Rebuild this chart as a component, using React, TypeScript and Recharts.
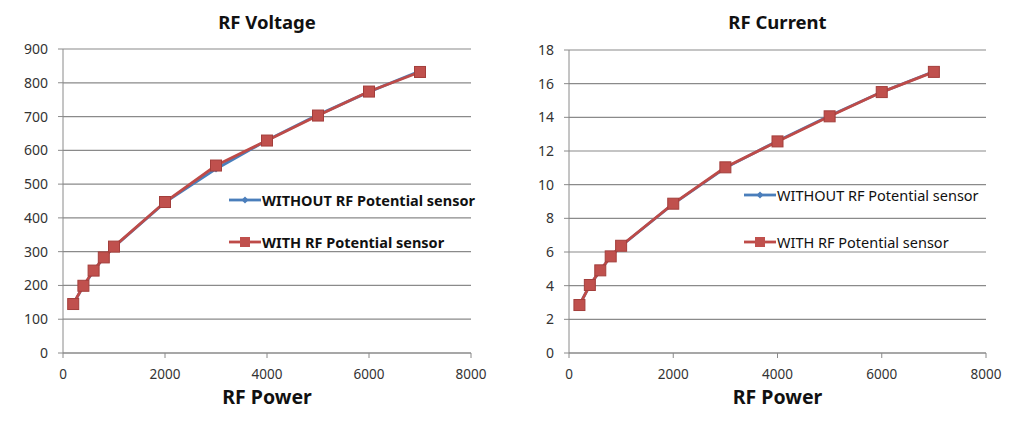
import { CartesianGrid, Legend, Line, LineChart, XAxis, YAxis } from "recharts"

const power = [200, 400, 600, 800, 1000, 2000, 3000, 4000, 5000, 6000, 7000]
const voltageWithout = [145, 198, 243, 282, 314, 446, 545, 630, 705, 773, 835]
const voltageWith = [145, 199, 244, 283, 315, 447, 555, 629, 703, 774, 832]
const currentWithout = [2.85, 4.02, 4.9, 5.73, 6.36, 8.86, 11.0, 12.6, 14.1, 15.5, 16.72]
const currentWith = [2.85, 4.04, 4.91, 5.74, 6.37, 8.87, 11.03, 12.57, 14.06, 15.5, 16.7]
const xTicks = [0, 2000, 4000, 6000, 8000]
const voltageTicks = [0, 100, 200, 300, 400, 500, 600, 700, 800, 900]
const currentTicks = [0, 2, 4, 6, 8, 10, 12, 14, 16, 18]
const seriesNames = ["WITHOUT RF Potential sensor", "WITH RF Potential sensor"]

const BLUE = "#4A7EBB"
const RED = "#BE4B48"
const FONT = "'Noto Sans', sans-serif"

const Square = (props: any) => {
  const { cx, cy } = props
  if (cx == null || cy == null) return null
  return <rect x={cx - 5.5} y={cy - 5.5} width={11} height={11} fill="#C0504D" stroke="#A33E3B" strokeWidth={1} />
}

const Diamond = (props: any) => {
  const { cx, cy } = props
  if (cx == null || cy == null) return null
  return <path d={`M${cx} ${cy - 3.5}L${cx + 3.5} ${cy}L${cx} ${cy + 3.5}L${cx - 3.5} ${cy}Z`} fill={BLUE} />
}

function LegendBox({ gap, bold }: { gap: number; bold: boolean }) {
  const rows = [
    { name: seriesNames[0], color: BLUE, square: false },
    { name: seriesNames[1], color: RED, square: true },
  ]
  return (
    <div style={{ fontFamily: FONT, fontSize: 14.5, fontWeight: bold ? 700 : 400, color: "#111" }}>
      {rows.map((r, i) => (
        <div key={r.name} style={{ display: "flex", alignItems: "center", height: 18, marginTop: i === 0 ? 0 : gap - 18 }}>
          <svg width={34} height={14} style={{ display: "block" }}>
            <line x1={1} y1={7} x2={33} y2={7} stroke={r.color} strokeWidth={2.8} />
            {r.square ? (
              <rect x={12} y={2} width={10} height={10} fill="#C0504D" />
            ) : (
              <path d="M17 3.5L20.5 7L17 10.5L13.5 7Z" fill={BLUE} />
            )}
          </svg>
          <span style={{ whiteSpace: "nowrap" }}>{r.name}</span>
        </div>
      ))}
    </div>
  )
}

interface PanelProps {
  title: string
  left: number
  width: number
  yWidth: number
  rightMargin: number
  top: number
  without: number[]
  withSensor: number[]
  yTicks: number[]
  legendLeft: number
  legendTop: number
  legendGap: number
  legendBold: boolean
}

function Panel(p: PanelProps) {
  const data = power.map((x, i) => ({ x, a: p.without[i], b: p.withSensor[i] }))
  const plotCenter = p.yWidth + (p.width - p.yWidth - p.rightMargin) / 2
  const labelStyle = {
    position: "absolute" as const,
    left: 0,
    width: plotCenter * 2,
    textAlign: "center" as const,
    fontFamily: FONT,
    fontWeight: 700,
    color: "#111",
  }
  return (
    <div style={{ position: "absolute", left: p.left, top: 0, width: p.width, height: 422 }}>
      <div style={{ ...labelStyle, top: 9, fontSize: 18.5 }}>{p.title}</div>
      <div style={{ ...labelStyle, top: 383, fontSize: 19.5 }}>RF Power</div>
      <LineChart
        width={p.width}
        height={422}
        data={data}
        margin={{ top: p.top, right: p.rightMargin, bottom: 39, left: 0 }}
        style={{ position: "absolute", top: 0, left: 0 }}
      >
        <CartesianGrid horizontal vertical={false} stroke="#8a8a8a" strokeWidth={1.2} />
        <XAxis
          dataKey="x"
          type="number"
          domain={[0, 8000]}
          ticks={xTicks}
          height={30}
          stroke="#8a8a8a"
          tickSize={5}
          tickMargin={11}
          tick={{ fill: "#333", fontSize: 13.5, fontFamily: FONT }}
        />
        <YAxis
          type="number"
          domain={[p.yTicks[0], p.yTicks[p.yTicks.length - 1]]}
          ticks={p.yTicks}
          width={p.yWidth}
          stroke="#8a8a8a"
          tickSize={5}
          tickMargin={10}
          tick={{ fill: "#333", fontSize: 14, fontFamily: FONT }}
        />
        <Legend
          layout="vertical"
          verticalAlign="middle"
          align="center"
          wrapperStyle={{ position: "absolute", top: p.legendTop, left: p.legendLeft, width: "auto" }}
          content={() => <LegendBox gap={p.legendGap} bold={p.legendBold} />}
        />
        <Line
          dataKey="a"
          name={seriesNames[0]}
          stroke={BLUE}
          strokeWidth={2.8}
          dot={<Diamond />}
          isAnimationActive={false}
        />
        <Line
          dataKey="b"
          name={seriesNames[1]}
          stroke={RED}
          strokeWidth={2.8}
          dot={<Square />}
          isAnimationActive={false}
        />
      </LineChart>
    </div>
  )
}

export default function App() {
  return (
    <div style={{ position: "absolute", top: 0, left: 0, width: 1025, height: 422, background: "#fff" }}>
      <Panel
        title="RF Voltage"
        left={0}
        width={505}
        yWidth={63}
        rightMargin={34}
        top={49}
        without={voltageWithout}
        withSensor={voltageWith}
        yTicks={voltageTicks}
        legendLeft={228}
        legendTop={191}
        legendGap={42}
        legendBold
      />
      <Panel
        title="RF Current"
        left={505}
        width={520}
        yWidth={64}
        rightMargin={39}
        top={50}
        without={currentWithout}
        withSensor={currentWith}
        yTicks={currentTicks}
        legendLeft={238}
        legendTop={186}
        legendGap={47}
        legendBold={false}
      />
    </div>
  )
}
